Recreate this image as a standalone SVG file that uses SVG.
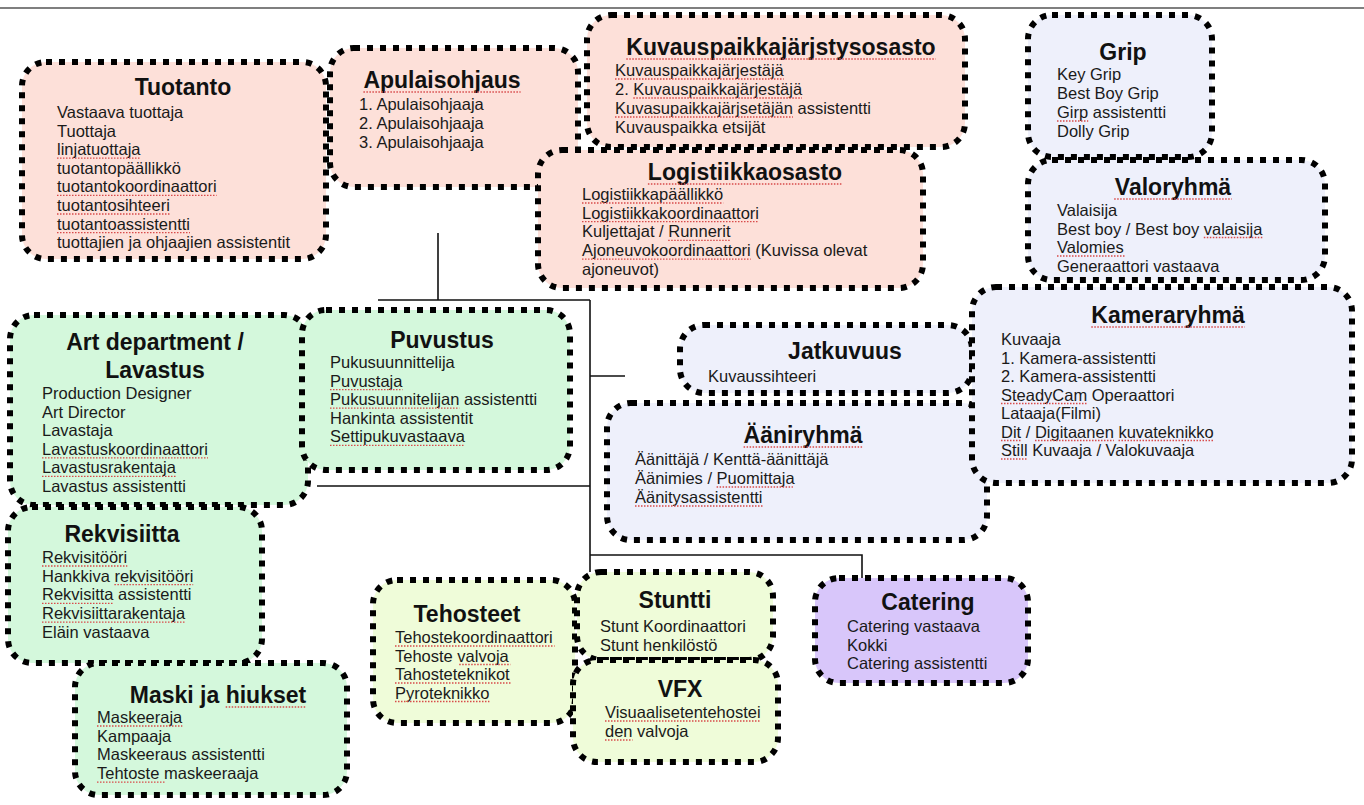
<svg xmlns="http://www.w3.org/2000/svg" width="1364" height="805" viewBox="0 0 1364 805">
<style>
text{font-family:"Liberation Sans",Arial,Helvetica,sans-serif;}
.box{stroke:#000;stroke-width:6;stroke-dasharray:6 7;}
.pink{fill:#fde0d9}.green{fill:#d4f8dc}.blue{fill:#eef0fb}.yel{fill:#effcd9}.purp{fill:#d8c6fa}
.t{font-size:23px;font-weight:bold;fill:#111;text-anchor:middle}
.i{font-size:16.5px;fill:#1a1a1a}
.sq{stroke:#d84a4a;stroke-width:1.3;stroke-dasharray:1.5 1.5;fill:none}
.ln{stroke:#111;stroke-width:1.6;fill:none}
</style>
<rect width="1364" height="805" fill="#fff"/>
<line x1="0" y1="8" x2="1364" y2="8" stroke="#555" stroke-width="1.5"/>
<g id="connectors">
<path class="ln" d="M438 233V300M378 300H590M590 300V572M590 376H625M317 486H590M590 555H862V578"/>
</g>
<g id="tuotanto">
<rect class="box pink" x="22" y="62" width="304" height="197" rx="24"/>
<text class="t" x="183" y="95">Tuotanto</text>
<text class="i"><tspan x="57" y="118">Vastaava tuottaja</tspan><tspan x="57" y="136.6">Tuottaja</tspan><tspan x="57" y="155.2">linjatuottaja</tspan><tspan x="57" y="173.8">tuotantopäällikkö</tspan><tspan x="57" y="192.4">tuotantokoordinaattori</tspan><tspan x="57" y="211">tuotantosihteeri</tspan><tspan x="57" y="229.6">tuotantoassistentti</tspan><tspan x="57" y="248.2">tuottajien ja ohjaajien assistentit</tspan></text>
<path class="sq" d="M57 158.2H140.5M57 195.4H216.6M57 214H169.8M57 232.6H190"/>
</g>
<g id="apulaisohjaus">
<rect class="box pink" x="330" y="48" width="248" height="139" rx="24"/>
<text class="t" x="442" y="88">Apulaisohjaus</text>
<text class="i"><tspan x="359" y="110">1. Apulaisohjaaja</tspan><tspan x="359" y="129">2. Apulaisohjaaja</tspan><tspan x="359" y="148">3. Apulaisohjaaja</tspan></text>
<path class="sq" d="M363.4 92H520.6"/>
</g>
<g id="kuvauspaikka">
<rect class="box pink" x="587" y="15" width="378" height="132" rx="24"/>
<text class="t" x="781" y="55">Kuvauspaikkajärjstysosasto</text>
<text class="i"><tspan x="615" y="76">Kuvauspaikkajärjestäjä</tspan><tspan x="615" y="95">2. Kuvauspaikkajärjestäjä</tspan><tspan x="615" y="114">Kuvasupaikkajärjsetäjän assistentti</tspan><tspan x="615" y="133">Kuvauspaikka etsijät</tspan></text>
<path class="sq" d="M626.3 59H935.7M615 79H783.7M633.3 98H802M615 117H792.9"/>
</g>
<g id="logistiikka">
<rect class="box pink" x="538" y="150" width="385" height="138" rx="24"/>
<text class="t" x="745" y="180">Logistiikkaosasto</text>
<text class="i"><tspan x="582" y="200">Logistiikkapäällikkö</tspan><tspan x="582" y="218.7">Logistiikkakoordinaattori</tspan><tspan x="582" y="237.4">Kuljettajat / Runnerit</tspan><tspan x="582" y="256.1">Ajoneuvokoordinaattori (Kuvissa olevat</tspan><tspan x="582" y="274.8">ajoneuvot)</tspan></text>
<path class="sq" d="M647.9 184H842.1M582 203H723.2M582 221.7H759M668.2 240.4H730.6M582 259.1H750.7"/>
</g>
<g id="grip">
<rect class="box blue" x="1028" y="15" width="184" height="142" rx="24"/>
<text class="t" x="1123" y="60">Grip</text>
<text class="i"><tspan x="1057" y="80">Key Grip</tspan><tspan x="1057" y="99">Best Boy Grip</tspan><tspan x="1057" y="118">Girp assistentti</tspan><tspan x="1057" y="137">Dolly Grip</tspan></text>
<path class="sq" d="M1057 121H1088.2"/>
</g>
<g id="valoryhma">
<rect class="box blue" x="1028" y="160" width="297" height="120" rx="24"/>
<text class="t" x="1173" y="195">Valoryhmä</text>
<text class="i"><tspan x="1057" y="216">Valaisija</tspan><tspan x="1057" y="234.5">Best boy / Best boy valaisija</tspan><tspan x="1057" y="253">Valomies</tspan><tspan x="1057" y="271.5">Generaattori vastaava</tspan></text>
<path class="sq" d="M1114.2 199H1231.8M1203.8 237.5H1262.5M1057 256H1124.8"/>
</g>
<g id="aaniryhma">
<rect class="box blue" x="607" y="403" width="380" height="137" rx="24"/>
<text class="t" x="803" y="443">Ääniryhmä</text>
<text class="i"><tspan x="635" y="465">Äänittäjä / Kenttä-äänittäjä</tspan><tspan x="635" y="484">Äänimies / Puomittaja</tspan><tspan x="635" y="503">Äänitysassistentti</tspan></text>
<path class="sq" d="M743.6 447H862.4M716.6 487H792.9M635 506H762.5"/>
</g>
<g id="jatkuvuus">
<rect class="box blue" x="680" y="325" width="292" height="68" rx="24"/>
<text class="t" x="845" y="359">Jatkuvuus</text>
<text class="i" x="708" y="382">Kuvaussihteeri</text>
</g>
<g id="kameraryhma">
<rect class="box blue" x="972" y="287" width="380" height="196" rx="24"/>
<text class="t" x="1168" y="323">Kameraryhmä</text>
<text class="i"><tspan x="1001" y="345">Kuvaaja</tspan><tspan x="1001" y="363.5">1. Kamera-assistentti</tspan><tspan x="1001" y="382">2. Kamera-assistentti</tspan><tspan x="1001" y="400.5">SteadyCam Operaattori</tspan><tspan x="1001" y="419">Lataaja(Filmi)</tspan><tspan x="1001" y="437.5">Dit / Digitaanen kuvateknikko</tspan><tspan x="1001" y="456">Still Kuvaaja / Valokuvaaja</tspan></text>
<path class="sq" d="M1091.3 327H1244.7M1001 403.5H1087.2M1001 440.5H1021.2M1035 440.5H1113.9M1118.5 440.5H1213.9M1001 459H1027.6"/>
</g>
<g id="art">
<rect class="box green" x="10" y="315" width="298" height="190" rx="24"/>
<text class="t" x="155" y="350">Art department /</text>
<text class="t" x="155" y="378">Lavastus</text>
<text class="i"><tspan x="42" y="399">Production Designer</tspan><tspan x="42" y="417.6">Art Director</tspan><tspan x="42" y="436.2">Lavastaja</tspan><tspan x="42" y="454.8">Lavastuskoordinaattori</tspan><tspan x="42" y="473.4">Lavastusrakentaja</tspan><tspan x="42" y="492">Lavastus assistentti</tspan></text>
<path class="sq" d="M42 457.8H208M42 476.4H175.8"/>
</g>
<g id="puvustus">
<rect class="box green" x="302" y="310" width="268" height="160" rx="24"/>
<text class="t" x="442" y="348">Puvustus</text>
<text class="i"><tspan x="330" y="368">Pukusuunnittelija</tspan><tspan x="330" y="386.6">Puvustaja</tspan><tspan x="330" y="405.2">Pukusuunnitelijan assistentti</tspan><tspan x="330" y="423.8">Hankinta assistentit</tspan><tspan x="330" y="442.4">Settipukuvastaava</tspan></text>
<path class="sq" d="M330 389.6H402.5M330 408.2H459.3M330 445.4H464.8"/>
</g>
<g id="rekvisiitta">
<rect class="box green" x="8" y="507" width="254" height="156" rx="24"/>
<text class="t" x="122" y="542">Rekvisiitta</text>
<text class="i"><tspan x="42" y="563">Rekvisitööri</tspan><tspan x="42" y="581.7">Hankkiva rekvisitööri</tspan><tspan x="42" y="600.4">Rekvisitta assistentti</tspan><tspan x="42" y="619.1">Rekvisiittarakentaja</tspan><tspan x="42" y="637.8">Eläin vastaava</tspan></text>
<path class="sq" d="M42 566H127.3M114.4 584.7H193.2M42 603.4H113.5M42 622.1H185"/>
</g>
<g id="maski">
<rect class="box green" x="75" y="663" width="272" height="132" rx="24"/>
<text class="t" x="218" y="703">Maski ja hiukset</text>
<text class="i"><tspan x="97" y="723">Maskeeraja</tspan><tspan x="97" y="741.7">Kampaaja</tspan><tspan x="97" y="760.4">Maskeeraus assistentti</tspan><tspan x="97" y="779.1">Tehtoste maskeeraaja</tspan></text>
<path class="sq" d="M225.7 707H306.2M97 726H182.3M97 782.1H165.8"/>
</g>
<g id="tehosteet">
<rect class="box yel" x="373" y="580" width="202" height="143" rx="24"/>
<text class="t" x="467" y="622">Tehosteet</text>
<text class="i"><tspan x="395" y="643">Tehostekoordinaattori</tspan><tspan x="395" y="661.5">Tehoste valvoja</tspan><tspan x="395" y="680">Tahosteteknikot</tspan><tspan x="395" y="698.5">Pyroteknikko</tspan></text>
<path class="sq" d="M395 646H554.6M459.2 664.5H510.5M395 683H511.5M395 701.5H489.4"/>
</g>
<g id="stuntti">
<rect class="box yel" x="577" y="572" width="196" height="88" rx="24"/>
<text class="t" x="675" y="608">Stuntti</text>
<text class="i"><tspan x="600" y="632">Stunt Koordinaattori</tspan><tspan x="600" y="651">Stunt henkilöstö</tspan></text>
</g>
<g id="vfx">
<rect class="box yel" x="573" y="660" width="205" height="102" rx="24"/>
<text class="t" x="680" y="697">VFX</text>
<text class="i"><tspan x="605" y="718">Visuaalisetentehostei</tspan><tspan x="605" y="737">den valvoja</tspan></text>
<path class="sq" d="M605 721H760.9M605 740H632.5"/>
</g>
<g id="catering">
<rect class="box purp" x="815" y="578" width="213" height="105" rx="24"/>
<text class="t" x="928" y="610">Catering</text>
<text class="i"><tspan x="847" y="632">Catering vastaava</tspan><tspan x="847" y="650.5">Kokki</tspan><tspan x="847" y="669">Catering assistentti</tspan></text>
</g>
</svg>
